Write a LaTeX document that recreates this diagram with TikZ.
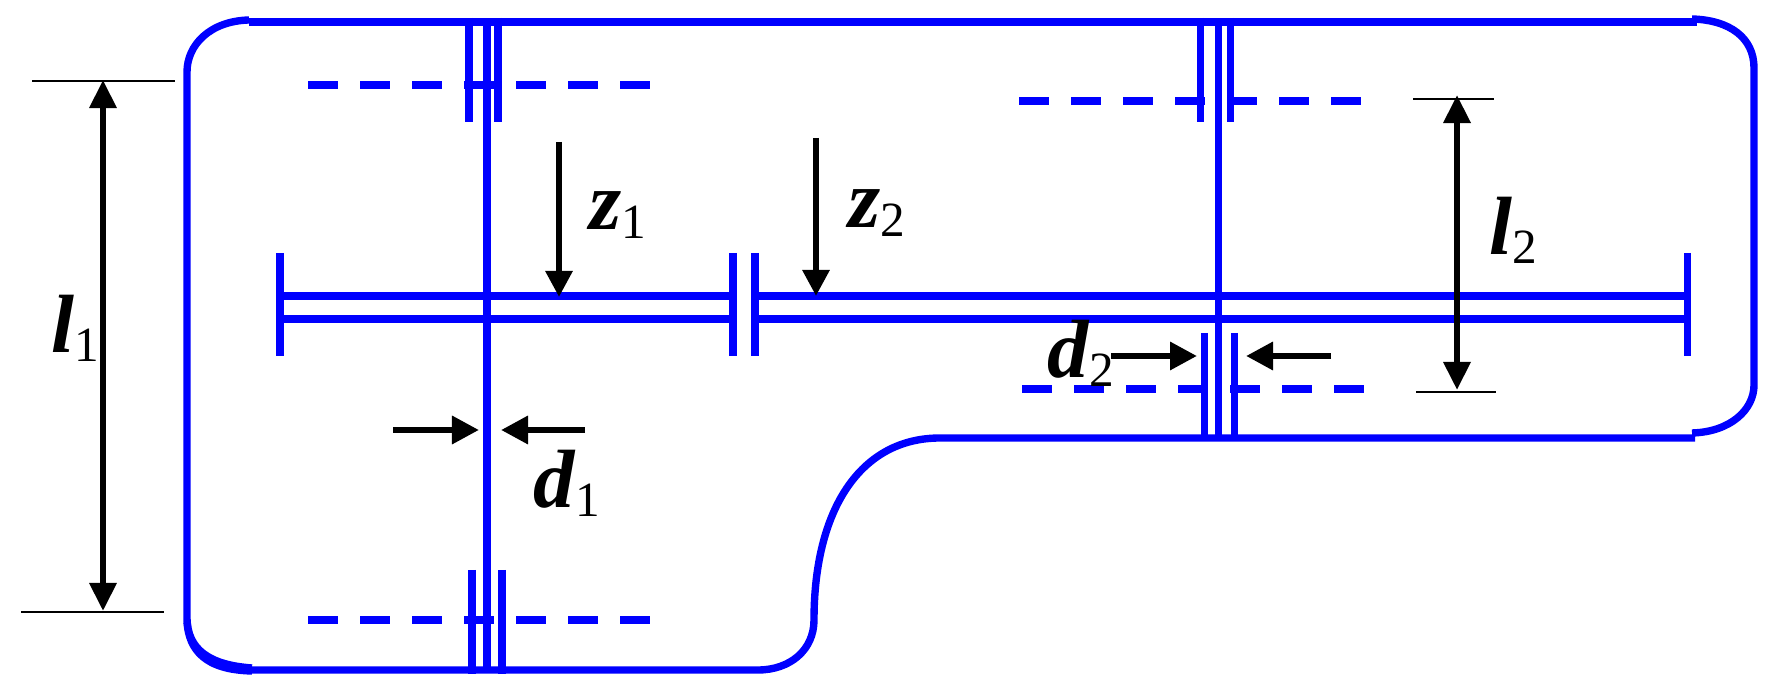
\documentclass[tikz,border=0pt]{standalone}
\usepackage{fontspec}
\setmainfont{Liberation Serif}
\usetikzlibrary{arrows.meta,positioning}
\newcommand{\symb}[2]{{\fontsize{23.5}{24}\selectfont\bfseries\itshape #1\raisebox{-2.3pt}{\fontsize{14}{14}\selectfont\mdseries\upshape #2}}}
\tikzset
{
    wall/.style    = {draw=blue, line width=2.1pt},
    slit/.style    = {draw=blue, line width=2pt},
    centre/.style  = {draw=blue, line width=2.2pt, dash pattern=on 0.30cm off 0.22cm},
    extent/.style  = {draw=black, line width=0.7pt},
    dimen/.style   = {draw=black, line width=1.8pt, {Triangle[length=0.28cm,width=0.26cm]}-{Triangle[length=0.28cm,width=0.26cm]}},
    flow/.style    = {draw=black, line width=1.7pt, -{Triangle[length=0.26cm,width=0.26cm]}},
    gap/.style     = {draw=black, line width=1.8pt, -{Triangle[length=0.27cm,width=0.27cm]}},
    symbol/.style  = {inner sep=0pt, anchor=base west}
}

\begin{document}
\begin{tikzpicture}[x=0.01cm,y=-0.01cm]
    \useasboundingbox (0,0) rectangle (1776,698);

    % casing outline
    \draw [wall] (249,22) -- (1697,22);
    \draw [wall] (1692,19) .. controls (1730,20) and (1754,38) .. (1754,68) -- (1754,385)
        .. controls (1754,410) and (1730,432) .. (1692,433);
    \draw [wall] (1695,438) -- (940,438)
        .. controls (860,438) and (814,510) .. (814,620)
        .. controls (814,650) and (790,670) .. (758,670) -- (250,670);
    \draw [wall] (252,668) .. controls (210,665) and (187,650) .. (187,617) -- (187,72)
        .. controls (187,45) and (210,21) .. (249,20);
    \draw [wall] (252,671) .. controls (205,670) and (189,650) .. (187,622);

    % channels
    \draw [slit] (487,22) -- (487,670);
    \draw [slit] (1218,22) -- (1218,438);
    \draw [wall] (280,296) -- (733,296);
    \draw [wall] (280,319) -- (733,319);
    \draw [wall] (755,296) -- (1687,296);
    \draw [wall] (755,319) -- (1687,319);
    \draw [slit] (280,253) -- (280,356);
    \draw [slit] (733,253) -- (733,356);
    \draw [slit] (755,253) -- (755,356);
    \draw [slit] (1687,253) -- (1687,356);

    % slits
    \draw [slit] (469,18) -- (469,122);
    \draw [slit] (498,18) -- (498,122);
    \draw [slit] (472,570) -- (472,674);
    \draw [slit] (502,570) -- (502,674);
    \draw [slit] (1200,18) -- (1200,122);
    \draw [slit] (1230,18) -- (1230,122);
    \draw [slit] (1204,333) -- (1204,441);
    \draw [slit] (1234,333) -- (1234,441);

    % centre lines
    \draw [centre] (308,85) -- (651,85);
    \draw [centre] (308,620) -- (651,620);
    \draw [centre] (1019,101) -- (1362,101);
    \draw [centre] (1022,389) -- (1365,389);

    % extents
    \coordinate (l1top) at (103,80);
    \coordinate (l1bot) at (103,611);
    \coordinate (l2top) at (1457,95);
    \coordinate (l2bot) at (1457,390);
    \draw [extent] (32,81) -- (175,81);
    \draw [extent] (21,612) -- (164,612);
    \draw [extent] (1413,99) -- (1494,99);
    \draw [extent] (1416,392) -- (1496,392);
    \draw [dimen] (l1top) -- (l1bot);
    \draw [dimen] (l2top) -- (l2bot);

    % flow positions
    \coordinate (z1a) at (559,142);
    \coordinate (z1b) at (559,297);
    \coordinate (z2a) at (816,138);
    \coordinate (z2b) at (816,296);
    \draw [flow] (z1a) -- (z1b);
    \draw [flow] (z2a) -- (z2b);

    % widths
    \coordinate (d1a) at (393,430);
    \coordinate (d1b) at (479,430);
    \coordinate (d1c) at (585,430);
    \coordinate (d1d) at (501,430);
    \coordinate (d2a) at (1111,356);
    \coordinate (d2b) at (1197,356);
    \coordinate (d2c) at (1331,356);
    \coordinate (d2d) at (1246,356);
    \draw [gap] (d1a) -- (d1b);
    \draw [gap] (d1c) -- (d1d);
    \draw [gap] (d2a) -- (d2b);
    \draw [gap] (d2c) -- (d2d);

    % labels
    \node [symbol] (l1) at (51,353) {\symb{l}{1}};
    \node [symbol] (l2) at (1489,255) {\symb{l}{2}};
    \node [symbol] (z1) at (589,230) {\symb{z}{1}};
    \node [symbol] (z2) at (848,228) {\symb{z}{2}};
    \node [symbol] (d1) at (533,508) {\symb{d}{1}};
    \node [symbol] (d2) at (1047,378) {\symb{d}{2}};
\end{tikzpicture}
\end{document}
